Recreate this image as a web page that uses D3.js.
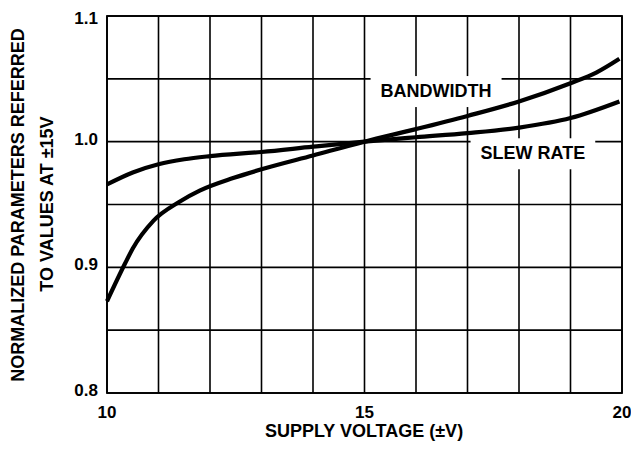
<!DOCTYPE html>
<html>
<head>
<meta charset="utf-8">
<script src="https://cdn.jsdelivr.net/npm/d3@7"></script>
<style>
  html, body { margin: 0; padding: 0; background: #fff; }
  svg { display: block; }
  text { font-family: "Liberation Sans", Arial, Helvetica, sans-serif; font-weight: bold; fill: #000; }
</style>
</head>
<body>
<script>
// ---- data ----
const bwVoltage   = [10.0, 10.35, 10.5, 10.9, 11.4, 11.8, 12.45, 13.0, 14.0, 15.0, 16.0, 17.0, 18.0, 19.0, 19.5, 19.95];
const bwValues    = [0.873, 0.903, 0.915, 0.937, 0.952, 0.961, 0.971, 0.978, 0.989, 1.000, 1.010, 1.0205, 1.032, 1.0465, 1.055, 1.066];
const srVoltage   = [10.0, 10.5, 11.0, 11.5, 12.0, 13.0, 14.0, 15.0, 16.0, 17.0, 18.0, 19.0, 19.95];
const srValues    = [0.966, 0.9755, 0.982, 0.986, 0.9885, 0.9918, 0.996, 1.000, 1.0035, 1.0068, 1.0112, 1.0188, 1.032];
const xTickLabels = [10, 15, 20];
const yTickLabels = [0.8, 0.9, 1.0, 1.1];
const xGrid = d3.range(10, 20.001, 1);
const yGrid = d3.range(0.8, 1.1001, 0.05);
const seriesNames = ["BANDWIDTH", "SLEW RATE"];
const labelAt = [[16.39, 1.0355], [18.27, 0.986]];   // label anchor (V, value)

// ---- layout ----
const W = 631, H = 450;
const x = d3.scaleLinear().domain([10, 20]).range([107, 622]);
const y = d3.scaleLinear().domain([0.8, 1.1]).range([393, 16]);

const svg = d3.select("body").append("svg").attr("width", W).attr("height", H);

// grid
const grid = svg.append("g").attr("stroke", "#000").attr("stroke-width", 1.6);
grid.selectAll(".vx").data(xGrid).join("line")
  .attr("x1", d => x(d)).attr("x2", d => x(d))
  .attr("y1", y(0.8)).attr("y2", y(1.1));
grid.selectAll(".hy").data(yGrid).join("line")
  .attr("y1", d => y(d)).attr("y2", d => y(d))
  .attr("x1", x(10)).attr("x2", x(20));
svg.append("rect")
  .attr("x", x(10)).attr("y", y(1.1))
  .attr("width", x(20) - x(10)).attr("height", y(0.8) - y(1.1))
  .attr("fill", "none").attr("stroke", "#000").attr("stroke-width", 1.8);

// label boxes (white background hiding grid)
const boxG = svg.append("g");
const curves = svg.append("g");
const lblG = svg.append("g");
const labels = lblG.selectAll("text").data(seriesNames).join("text")
  .attr("x", (d, i) => x(labelAt[i][0]))
  .attr("y", (d, i) => y(labelAt[i][1]))
  .attr("text-anchor", "middle")
  .attr("font-size", 18)
  .text(d => d);
labels.each(function() {
  const b = this.getBBox();
  boxG.append("rect")
    .attr("x", b.x - 10).attr("y", b.y - 5)
    .attr("width", b.width + 20).attr("height", b.height + 11)
    .attr("fill", "#fff");
});

// curves
const line = d3.line().x(d => x(d[0])).y(d => y(d[1])).curve(d3.curveMonotoneX);
curves.append("path")
  .datum(bwVoltage.map((v, i) => [v, bwValues[i]]))
  .attr("d", line).attr("fill", "none").attr("stroke", "#000").attr("stroke-width", 4.2);
curves.append("path")
  .datum(srVoltage.map((v, i) => [v, srValues[i]]))
  .attr("d", line).attr("fill", "none").attr("stroke", "#000").attr("stroke-width", 4.2);

// tick labels
svg.append("g").selectAll("text").data(yTickLabels).join("text")
  .attr("x", 98)
  .attr("y", d => Math.max(y(d) - 3, 18))
  .attr("dy", "0.36em")
  .attr("text-anchor", "end")
  .attr("font-size", 17)
  .text(d => d3.format(".1f")(d));
svg.append("g").selectAll("text").data(xTickLabels).join("text")
  .attr("x", d => x(d))
  .attr("y", 418)
  .attr("text-anchor", "middle")
  .attr("font-size", 17)
  .text(d => d);

// axis titles
svg.append("text")
  .attr("x", 364).attr("y", 437)
  .attr("text-anchor", "middle").attr("font-size", 18)
  .text("SUPPLY VOLTAGE (±V)");
svg.append("text")
  .attr("transform", "translate(24,205) rotate(-90)")
  .attr("text-anchor", "middle").attr("font-size", 18)
  .text("NORMALIZED PARAMETERS REFERRED");
svg.append("text")
  .attr("transform", "translate(53,204) rotate(-90)")
  .attr("text-anchor", "middle").attr("font-size", 18)
  .text("TO VALUES AT ±15V");
</script>
</body>
</html>
